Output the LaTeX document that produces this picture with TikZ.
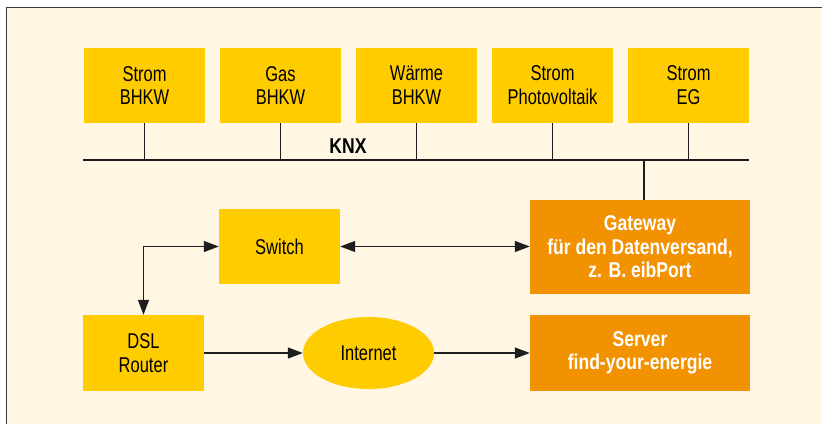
\documentclass[tikz,border=0pt]{standalone}
\usepackage{fontspec}
\setmainfont{Liberation Sans}[FakeStretch=0.77, BoldFeatures={FakeStretch=0.82}]
\usetikzlibrary{arrows.meta,shapes.geometric}
\definecolor{cream}{HTML}{FFF6E4}
\definecolor{yel}{HTML}{FFCC00}
\definecolor{org}{HTML}{F39200}
\definecolor{framec}{HTML}{3A3A3A}
\definecolor{linec}{HTML}{1E1E1E}
\tikzset{
  txt/.style={font=\fontsize{21.5}{24}\selectfont, align=center},
  ybox/.style={txt, fill=yel, text=black, minimum width=121bp, minimum height=75bp, inner sep=0pt},
  obox/.style={txt, font=\fontsize{21.5}{23.5}\selectfont\bfseries, fill=org, text=white, minimum width=220bp, inner sep=0pt},
  conn/.style={draw=linec, line width=1.3bp},
  arr/.style={conn, -{Triangle[length=15bp,width=11bp]}},
  darr/.style={conn, {Triangle[length=15bp,width=11bp]}-{Triangle[length=15bp,width=11bp]}},
}
\begin{document}
\begin{tikzpicture}[x=1bp,y=-1bp]
\useasboundingbox (0,0) rectangle (822,424);
\fill[white] (0,0) rectangle (822,424);
\fill[cream] (6.5,7.5) rectangle (822,424);
\draw[framec, line width=1.5bp] (6.5,424) -- (6.5,7.5) -- (822,7.5);

\node[ybox] (s1) at (144.5,85.5) {Strom\\BHKW};
\node[ybox] (s2) at (280.5,85.5) {Gas\\BHKW};
\node[ybox] (s3) at (416.5,85.5) {Wärme\\BHKW};
\node[ybox] (s4) at (552.5,85.5) {Strom\\Photovoltaik};
\node[ybox] (s5) at (688.5,85.5) {Strom\\EG};

\coordinate (busL) at (83,160);
\coordinate (busR) at (749,160);
\draw[draw=linec, line width=2bp] (busL) -- (busR);
\node[txt, font=\fontsize{21.5}{24}\selectfont\bfseries, text=black] (knx) at (348,146) {KNX};
\foreach \n in {s1,s2,s3,s4,s5} \draw[conn] (\n.south) -- (\n.south |- busL);

\node[obox, minimum height=94bp] (gw) at (640,247) {Gateway\\für den Datenversand,\\z. B. eibPort};
\coordinate (gwtap) at (644,160);
\draw[conn] (gwtap) -- (gwtap |- gw.north);

\node[ybox] (sw) at (279.5,246.5) {Switch};
\node[ybox, minimum height=76bp] (dsl) at (143.5,353) {DSL\\Router};
\node[txt, ellipse, fill=yel, minimum width=131bp, minimum height=72bp, inner sep=0pt] (inet) at (368.5,353) {Internet};
\node[obox, minimum height=76bp] (srv) at (640,353) {Server\\find-your-energie};

\draw[darr] (sw.east) -- (gw.west |- sw.east);
\draw[darr] (sw.west) -| (dsl.north);
\draw[arr] (dsl.east) -- (inet.west);
\draw[arr] (inet.east) -- (srv.west);
\end{tikzpicture}
\end{document}
